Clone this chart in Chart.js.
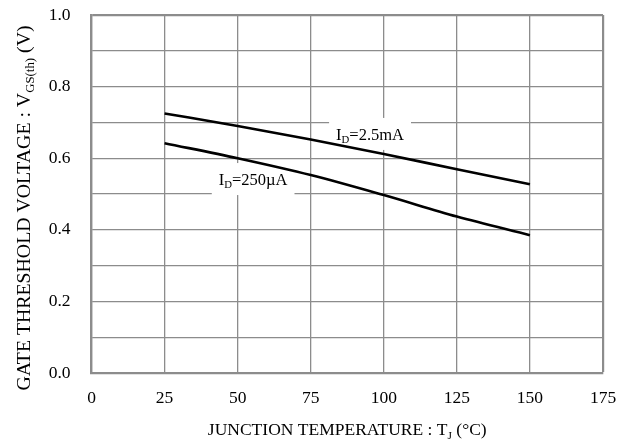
<!DOCTYPE html>
<html>
<head>
<meta charset="utf-8">
<script src="https://cdn.jsdelivr.net/npm/chart.js@4"></script>
<style>
  html, body { margin: 0; padding: 0; background: #fff; }
  #wrap { width: 618px; height: 443px; }
</style>
</head>
<body>
<div id="wrap"><canvas id="chart" width="618" height="443"></canvas></div>
<script>
// temperature points (deg C)
const temps = [25, 50, 75, 100, 125, 150];
// gate threshold voltage (V)
const vth25mA = [0.725, 0.690, 0.652, 0.612, 0.569, 0.527];
const vth250uA = [0.642, 0.600, 0.553, 0.497, 0.437, 0.385];

const xTicks = [0, 25, 50, 75, 100, 125, 150, 175];
const yTicks = [0.0, 0.2, 0.4, 0.6, 0.8, 1.0];

const serif = '"Liberation Serif", "Times New Roman", serif';

// draws text with subscript parts
function richText(ctx, parts, x, y, size, align) {
  let total = 0;
  parts.forEach(p => {
    ctx.font = (p.sub ? size * 0.65 : size) + 'px ' + serif;
    p.w = ctx.measureText(p.t).width;
    total += p.w;
  });
  let cx = align === 'center' ? x - total / 2 : x;
  parts.forEach(p => {
    ctx.font = (p.sub ? size * 0.65 : size) + 'px ' + serif;
    ctx.fillText(p.t, cx, p.sub ? y + size * 0.2 : y);
    cx += p.w;
  });
  return total;
}

const labels = [
  { x: 95.3, y: 0.651, parts: [{ t: 'I' }, { t: 'D', sub: true }, { t: '=2.5mA' }] },
  { x: 55.3, y: 0.525, parts: [{ t: 'I' }, { t: 'D', sub: true }, { t: '=250\u00b5A' }] },
];
const labelSize = 16.5;

const decor = {
  id: 'decor',
  beforeDatasetsDraw(chart) {
    const ctx = chart.ctx;
    const xs = chart.scales.x, ys = chart.scales.y;
    ctx.save();
    labels.forEach(l => {
      const px = xs.getPixelForValue(l.x), py = ys.getPixelForValue(l.y);
      let w = 0;
      l.parts.forEach(p => {
        ctx.font = (p.sub ? labelSize * 0.65 : labelSize) + 'px ' + serif;
        w += ctx.measureText(p.t).width;
      });
      ctx.fillStyle = '#fff';
      ctx.fillRect(px - w / 2 - 7, py - 22, w + 14, 32);
    });
    ctx.restore();
  },
  afterDatasetsDraw(chart) {
    const ctx = chart.ctx;
    const xs = chart.scales.x, ys = chart.scales.y;
    ctx.save();
    ctx.fillStyle = '#000';
    ctx.textBaseline = 'alphabetic';
    labels.forEach(l => {
      richText(ctx, l.parts, xs.getPixelForValue(l.x), ys.getPixelForValue(l.y), labelSize, 'center');
    });
    // x axis title
    const area = chart.chartArea;
    richText(ctx, [{ t: 'JUNCTION TEMPERATURE : T' }, { t: 'J', sub: true }, { t: ' (\u00b0C)' }],
      (area.left + area.right) / 2, 435, 17.5, 'center');
    // y axis title
    ctx.translate(30, 208);
    ctx.rotate(-Math.PI / 2);
    richText(ctx, [{ t: 'GATE THRESHOLD VOLTAGE : V' }, { t: 'GS(th)', sub: true }, { t: ' (V)' }],
      0, 0, 19.8, 'center');
    ctx.restore();
  }
};

const lineStyle = {
  borderColor: '#000',
  borderWidth: 2.6,
  pointRadius: 0,
  fill: false,
  cubicInterpolationMode: 'monotone',
};

new Chart(document.getElementById('chart'), {
  type: 'line',
  data: {
    datasets: [
      { label: 'ID=2.5mA', data: temps.map((t, i) => ({ x: t, y: vth25mA[i] })), ...lineStyle },
      { label: 'ID=250uA', data: temps.map((t, i) => ({ x: t, y: vth250uA[i] })), ...lineStyle },
    ],
  },
  options: {
    responsive: false,
    animation: false,
    devicePixelRatio: 1,
    layout: { padding: { top: 15, right: 15, left: 0, bottom: 0 } },
    plugins: { legend: { display: false }, tooltip: { enabled: false } },
    scales: {
      x: {
        type: 'linear',
        min: 0, max: 175,
        afterBuildTicks: s => { s.ticks = xTicks.map(v => ({ value: v })); },
        afterFit: s => {
          s.height = 70;
          s.paddingLeft = 0; s.paddingRight = 0;
        },
        grid: {
          color: '#8c8c8c',
          lineWidth: c => (c.tick && c.tick.value === 175 ? 2.2 : 1.3),
          drawTicks: false,
        },
        border: { display: true, color: '#8c8c8c', width: 2.2 },
        ticks: { color: '#000', font: { family: serif, size: 17.5 }, padding: 15, maxRotation: 0 },
      },
      y: {
        type: 'linear',
        min: 0, max: 1,
        afterBuildTicks: s => {
          const t = [];
          for (let i = 0; i <= 10; i++) t.push({ value: i / 10 });
          s.ticks = t;
        },
        afterFit: s => {
          s.width = 91.5;
          s.paddingTop = 0; s.paddingBottom = 0;
        },
        grid: {
          color: '#8c8c8c',
          lineWidth: c => (c.tick && c.tick.value === 1 ? 2.2 : 1.3),
          drawTicks: false,
        },
        border: { display: true, color: '#8c8c8c', width: 2.2 },
        ticks: {
          color: '#000',
          font: { family: serif, size: 17.5 },
          padding: 21,
          callback: v => (yTicks.some(t => Math.abs(t - v) < 1e-6) ? v.toFixed(1) : ''),
        },
      },
    },
  },
  plugins: [decor],
});
</script>
</body>
</html>
